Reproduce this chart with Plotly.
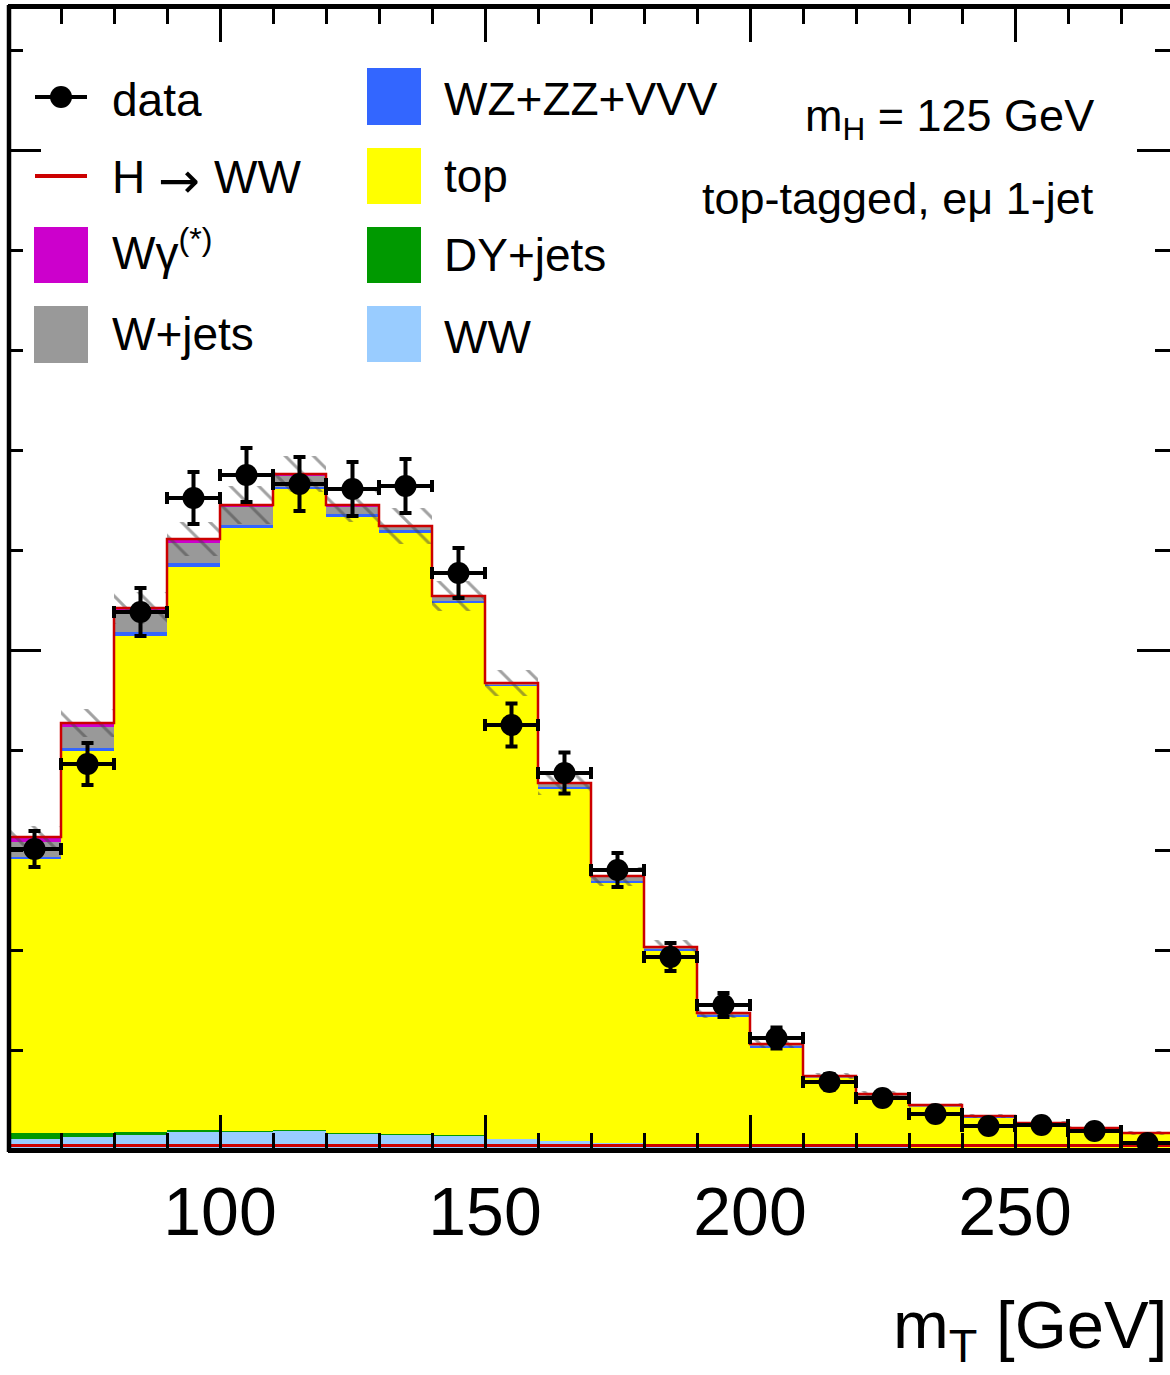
import plotly.graph_objects as go

# ---------------- data ----------------
bin_centers = [65, 75, 85, 95, 105, 115, 125, 135, 145, 155, 165,
               175, 185, 195, 205, 215, 225, 235, 245, 255, 265, 275]
bin_width = 10

data_vals = [301, 386, 538, 652, 675, 666, 661, 664, 577, 425, 377,
             280, 193, 145, 112, 68, 52, 36, 24, 25, 19, 7]
data_err = [18, 21, 24, 26, 27, 27, 27, 27, 25, 21.5, 20.5,
            17, 14, 12, 10.5, 8, 7, 6, 5, 5, 4.4, 3]

ww = [11, 13, 15, 18, 18, 19, 16, 15, 14, 11, 9,
      7, 6, 5, 4, 3, 3, 2, 2, 2, 1, 1]
dyjets = [6, 4, 3, 2, 1, 1, 1, 1, 1, 0.5, 0.3,
          0.3, 0.2, 0.2, 0.1, 0.1, 0.1, 0.1, 0.1, 0.1, 0.1, 0.1]
top = [274, 382, 496, 563, 603, 641, 616, 601, 532, 452.5, 352.2,
       260.4, 192.5, 128.6, 98.7, 69.3, 51.3, 41.3, 30.8, 24, 20, 15]
vz = [2, 3, 4, 4, 3, 2, 3, 3, 2, 1, 2,
      1, 2, 1, 1, 0.5, 0.5, 0.5, 0.5, 0.3, 0.3, 0.3]
wjets = [15, 21, 20, 20, 18, 11, 7, 3, 4, 1.5, 3,
         5, 2, 2, 2, 1, 1, 1, 0.5, 0.5, 0.5, 0.5]
wgamma = [5, 4, 4, 4, 2, 2, 2, 1, 1, 0.5, 0.5,
          0.3, 0.3, 0.2, 0.2, 0.1, 0.1, 0.1, 0.1, 0.1, 0.1, 0.1]
signal = [4.5, 4.5, 4.5, 4.5, 4.5, 4.5, 4.5, 4.5, 4.5, 4.5, 4.5,
          4.5, 4.5, 4.5, 4.5, 4.5, 4.5, 4.5, 4.5, 4.5, 4.5, 4.5]
syst_unc = [11, 14, 16, 17, 19, 18, 17, 18, 15, 13, 11.5,
            9.5, 7, 5, 4, 3, 3, 2.5, 2, 2, 2, 2]

x_ticks = [100, 150, 200, 250]

# ---------------- styles ----------------
FONT = "Liberation Sans"
C_WW = "#99ccff"
C_DY = "#009900"
C_TOP = "#ffff00"
C_VZ = "#3366ff"
C_WJ = "#999999"
C_WG = "#cc00cc"
C_SIG = "#cc0000"

fig = go.Figure()

# stacked backgrounds (bottom -> top)
stack = [("WW", ww, C_WW), ("DY+jets", dyjets, C_DY), ("top", top, C_TOP),
         ("WZ+ZZ+VVV", vz, C_VZ), ("W+jets", wjets, C_WJ),
         ("Wgamma", wgamma, C_WG)]
base = [0.0] * len(bin_centers)
for name, vals, col in stack:
    fig.add_trace(go.Bar(x=bin_centers, y=vals, base=list(base), width=bin_width,
                         marker=dict(color=col, line=dict(width=0)),
                         opacity=1, name=name, showlegend=False))
    base = [b + v for b, v in zip(base, vals)]
total = base

# hatched uncertainty band
fig.add_trace(go.Bar(x=bin_centers, y=[2 * u for u in syst_unc],
                     base=[t - u for t, u in zip(total, syst_unc)],
                     width=bin_width,
                     marker=dict(color="rgba(0,0,0,0)", line=dict(width=0),
                                 pattern=dict(shape="\\", fgcolor="#444444",
                                              bgcolor="rgba(0,0,0,0)",
                                              size=20, solidity=0.15)),
                     showlegend=False))

# red outline of total stack
edges_left = [c - bin_width / 2 for c in bin_centers]
step_x = [edges_left[0]] + edges_left + [bin_centers[-1] + bin_width / 2]
step_y = [0] + total + [total[-1]]
fig.add_trace(go.Scatter(x=step_x, y=step_y, mode="lines",
                         line=dict(color=C_SIG, width=2.5, shape="hv"),
                         showlegend=False, hoverinfo="skip"))

# signal histogram (H -> WW)
fig.add_trace(go.Scatter(x=edges_left + [bin_centers[-1] + bin_width / 2],
                         y=signal + [signal[-1]], mode="lines",
                         line=dict(color=C_SIG, width=3, shape="hv"),
                         showlegend=False, hoverinfo="skip"))

# data points
fig.add_trace(go.Scatter(x=bin_centers, y=data_vals, mode="markers",
                         marker=dict(color="black", size=22),
                         error_y=dict(type="data", array=data_err, color="black",
                                      thickness=4, width=6),
                         error_x=dict(type="constant", value=bin_width / 2,
                                      color="black", thickness=4, width=6),
                         showlegend=False))

# ---------------- layout geometry ----------------
W_FIG, H_FIG = 1170, 1375
L, R, T, B = 8, 1170, 9, 1148
PW, PH = R - L, B - T


def px(xp):
    return (xp - L) / PW


def py(yp):
    return (B - yp) / PH


shapes = []
annotations = []

# left frame line (right one lies beyond the picture edge in the reference)
shapes.append(dict(type="line", xref="paper", yref="paper", layer="above",
                   x0=px(9), x1=px(9), y0=py(1152), y1=py(5),
                   line=dict(color="black", width=4.5)))

# legend column 1
shapes.append(dict(type="line", xref="paper", yref="paper",
                   x0=px(35), x1=px(87), y0=py(97), y1=py(97),
                   line=dict(color="black", width=4)))
shapes.append(dict(type="circle", xref="paper", yref="paper",
                   xsizemode="pixel", ysizemode="pixel",
                   xanchor=px(61), yanchor=py(97),
                   x0=-11, x1=11, y0=-11, y1=11,
                   fillcolor="black", line=dict(color="black", width=0)))
shapes.append(dict(type="line", xref="paper", yref="paper",
                   x0=px(35), x1=px(87), y0=py(176), y1=py(176),
                   line=dict(color=C_SIG, width=4)))
for (y0, y1, col) in [(227, 283, C_WG), (306, 363, C_WJ)]:
    shapes.append(dict(type="rect", xref="paper", yref="paper",
                       x0=px(34), x1=px(88), y0=py(y1), y1=py(y0),
                       fillcolor=col, line=dict(width=0)))
# legend column 2
for (y0, y1, col) in [(68, 125, C_VZ), (148, 204, C_TOP),
                      (227, 283, C_DY), (306, 362, C_WW)]:
    shapes.append(dict(type="rect", xref="paper", yref="paper",
                       x0=px(367), x1=px(421), y0=py(y1), y1=py(y0),
                       fillcolor=col, line=dict(width=0)))

leg_font = dict(family=FONT, size=46, color="black")
for text, xx, yy in [("data", 110, 100), ("H", 110, 177),
                     ("WW", 212, 177),
                     ("Wγ<sup>(*)</sup>", 110, 250), ("W+jets", 110, 334),
                     ("WZ+ZZ+VVV", 442, 99), ("top", 442, 176),
                     ("DY+jets", 442, 255), ("WW", 442, 337)]:
    annotations.append(dict(text=text, xref="paper", yref="paper",
                            x=px(xx), y=py(yy), xanchor="left", yanchor="middle",
                            showarrow=False, font=leg_font))
# the arrow of "H -> WW"
annotations.append(dict(text="→", xref="paper", yref="paper",
                        x=px(179), y=py(181), xanchor="center", yanchor="middle",
                        showarrow=False,
                        font=dict(family="DejaVu Sans", size=50, color="black")))

annotations.append(dict(text="m<sub>H</sub> = 125 GeV", xref="paper", yref="paper",
                        x=px(1096), y=py(118), xanchor="right", yanchor="middle",
                        showarrow=False, font=dict(family=FONT, size=45, color="black")))
annotations.append(dict(text="top-tagged, eμ 1-jet", xref="paper", yref="paper",
                        x=px(1096), y=py(198), xanchor="right", yanchor="middle",
                        showarrow=False, font=dict(family=FONT, size=45, color="black")))
annotations.append(dict(text="m<sub>T</sub> [GeV]", xref="paper", yref="paper",
                        x=px(1169), y=py(1329), xanchor="right", yanchor="middle",
                        showarrow=False, font=dict(family=FONT, size=67, color="black")))

fig.update_layout(
    width=W_FIG, height=H_FIG,
    margin=dict(l=L, r=W_FIG - R, t=T, b=H_FIG - B, pad=0),
    paper_bgcolor="white", plot_bgcolor="white",
    barmode="overlay", bargap=0,
    showlegend=False,
    shapes=shapes, annotations=annotations,
    font=dict(family=FONT, color="black"),
)
fig.update_xaxes(range=[60, 60 + PW / 5.3], showgrid=False, zeroline=False,
                 showline=True, linecolor="black", linewidth=5, mirror="allticks",
                 ticks="inside", ticklen=33, tickwidth=2.5, tickcolor="black",
                 tickvals=x_ticks, ticktext=[str(v) for v in x_ticks],
                 tickfont=dict(family=FONT, size=68, color="black"),
                 minor=dict(dtick=10, tick0=0, ticks="inside", ticklen=15,
                            tickwidth=2.5, tickcolor="black", showgrid=False))
fig.update_yaxes(range=[2, 1141], showgrid=False, zeroline=False,
                 showline=False, mirror="allticks",
                 ticks="inside", ticklen=33, tickwidth=2.5, tickcolor="black",
                 dtick=500, tick0=0, showticklabels=False,
                 minor=dict(dtick=100, tick0=0, ticks="inside", ticklen=15,
                            tickwidth=2.5, tickcolor="black", showgrid=False))

fig.write_html("out.html",
               config={"displayModeBar": False},
               post_script="document.body.style.margin='0px';"
                           "document.body.style.overflow='hidden';")
